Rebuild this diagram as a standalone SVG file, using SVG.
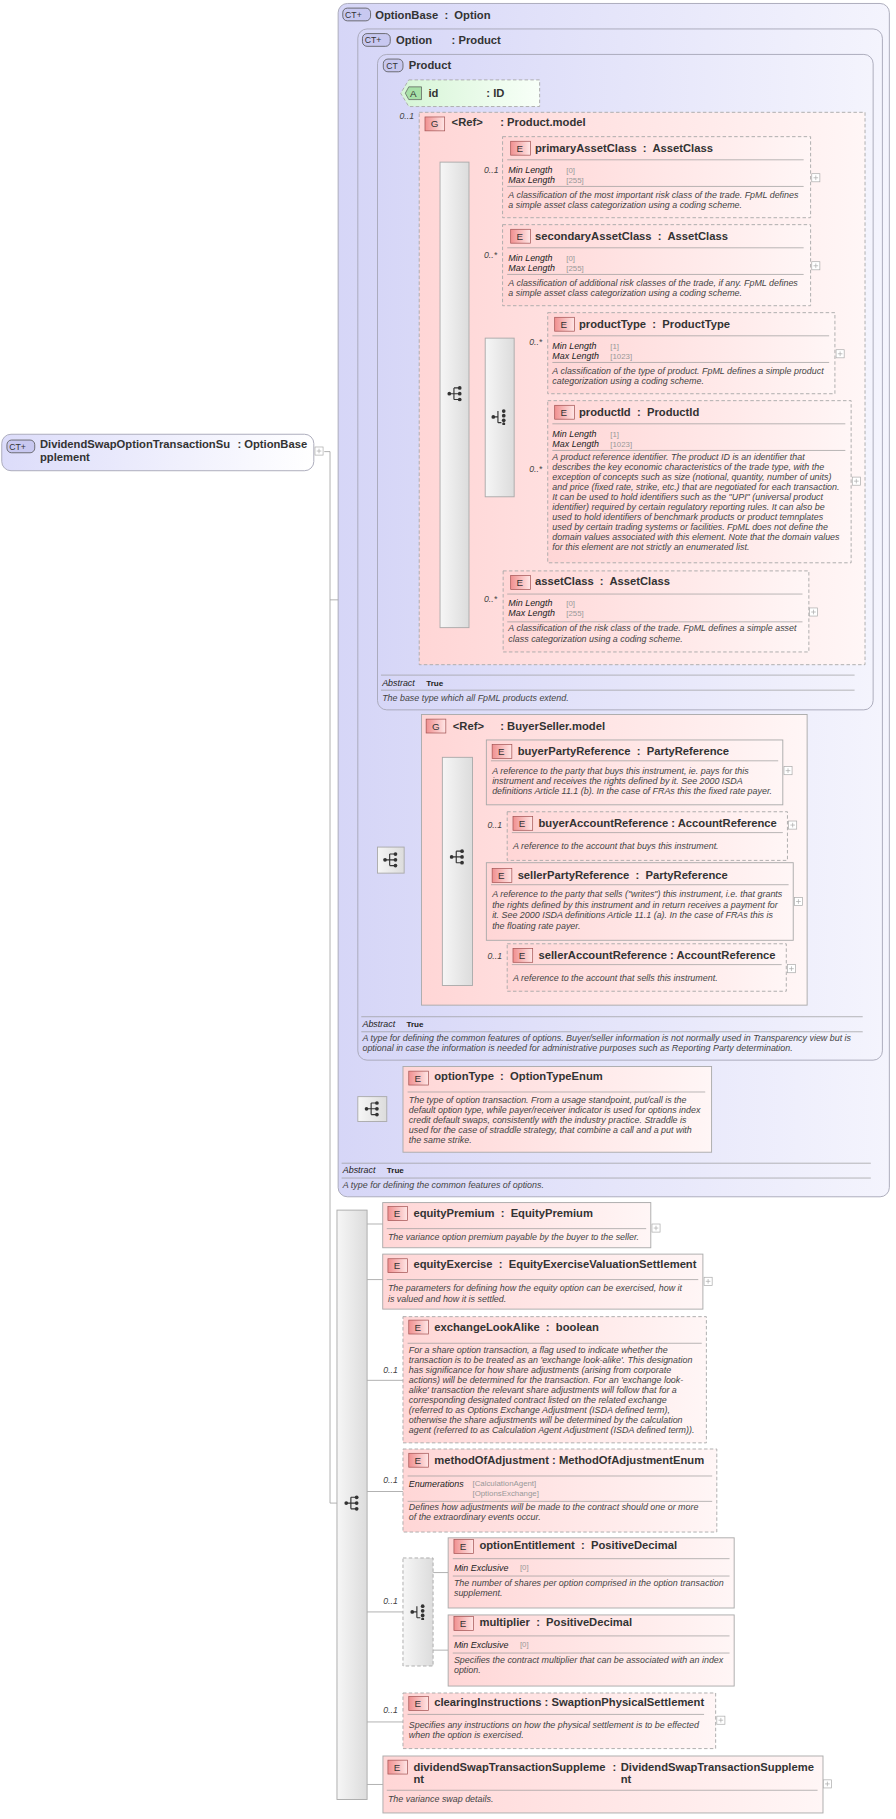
<svg xmlns="http://www.w3.org/2000/svg" width="896" height="1819" viewBox="0 0 896 1819">
<defs>
<linearGradient id="gct" x1="0" y1="0" x2="1" y2="0"><stop offset="0" stop-color="#d6d6f7"/><stop offset="1" stop-color="#f4f4fd"/></linearGradient>
<linearGradient id="gctr" x1="0" y1="0" x2="1" y2="0"><stop offset="0" stop-color="#dcdcfa"/><stop offset="1" stop-color="#ffffff"/></linearGradient>
<linearGradient id="ge" x1="0" y1="0" x2="1" y2="0"><stop offset="0" stop-color="#ffd6d6"/><stop offset="1" stop-color="#fff6f6"/></linearGradient>
<linearGradient id="ga" x1="0" y1="0" x2="1" y2="0"><stop offset="0" stop-color="#d6f5d6"/><stop offset="1" stop-color="#f8fff8"/></linearGradient>
<linearGradient id="gs" x1="0" y1="0" x2="1" y2="0"><stop offset="0" stop-color="#f6f6f6"/><stop offset="1" stop-color="#dcdcdc"/></linearGradient>
<linearGradient id="gb" x1="0" y1="0" x2="1" y2="0"><stop offset="0" stop-color="#f09090"/><stop offset="1" stop-color="#ffe6e6"/></linearGradient>
<symbol id="seq" viewBox="0 0 14 14"><circle cx="2" cy="7" r="1.6" fill="#333"/><path d="M2 7H6M6 2V12M6 2H11M6 7H11M6 12H11" stroke="#333" fill="none" stroke-width="1"/><circle cx="11" cy="2" r="1.6" fill="#333"/><circle cx="11" cy="7" r="1.6" fill="#333"/><circle cx="11" cy="12" r="1.6" fill="#333"/></symbol>
<symbol id="cho" viewBox="0 0 14 14"><circle cx="2" cy="7" r="1.6" fill="#333"/><path d="M2 7H6M6 2V12M6 12H9" stroke="#333" fill="none" stroke-width="1"/><circle cx="11" cy="2" r="1.6" fill="#333"/><circle cx="11" cy="6" r="1.6" fill="#333"/><circle cx="11" cy="10" r="1.6" fill="#333"/><circle cx="11" cy="13" r="1.3" fill="#333"/></symbol>
<g id="plus"><rect x="0" y="0" width="7" height="7" fill="#fff" stroke="#aaa" stroke-width="0.6"/><path d="M1.5 3.5H5.5M3.5 1.5V5.5" stroke="#aaa" stroke-width="0.6"/></g>
</defs>
<style>
.h{font-family:"Liberation Sans",Arial,sans-serif;font-weight:bold;font-size:9.7px;fill:#333;white-space:pre}
.d{font-family:"Liberation Sans",Arial,sans-serif;font-style:italic;font-size:7.7px;fill:#444}
.k{font-family:"Liberation Sans",Arial,sans-serif;font-style:italic;font-size:7.7px;fill:#222}
.v{font-family:"Liberation Sans",Arial,sans-serif;font-size:6.8px;fill:#999}
.t{font-family:"Liberation Sans",Arial,sans-serif;font-weight:bold;font-size:7px;fill:#222}
.m{font-family:"Liberation Sans",Arial,sans-serif;font-style:italic;font-size:7.5px;fill:#444}
.bt{font-family:"Liberation Sans",Arial,sans-serif;font-size:8.5px;fill:#333}
.bs{font-family:"Liberation Sans",Arial,sans-serif;font-size:7.5px;fill:#333}
.ct{fill:url(#gct);stroke:#a8a8b8;stroke-width:0.8}
.e{fill:url(#ge);stroke:#aaa;stroke-width:0.8}
.eo{fill:url(#ge);stroke:#aaa;stroke-width:0.8;stroke-dasharray:3 2}
.s{fill:url(#gs);stroke:#aaa;stroke-width:0.8}
.so{fill:url(#gs);stroke:#aaa;stroke-width:0.8;stroke-dasharray:3 2}
.ln{stroke:#999;stroke-width:0.6}
.c{stroke:#a0a0a0;stroke-width:0.7;fill:none}
.be{fill:url(#gb);stroke:#a05050;stroke-width:0.6}
.bc{fill:#c8c8f0;stroke:#555;stroke-width:0.7}
</style>
<rect width="896" height="1819" fill="#fff"/>
<g transform="scale(1.158)">
<g id="connectors">
<path class="c" d="M280 390H285V1298H291M285 518H301M301 473V958H309M301 473H318M318 330V742H326M318 330H335M335 82V335H380M335 82H346M349 742H382M334 958H348M405 153H434M405 229H434M405 360H419M444 305H473M444 416H473M405 528H434M408 665H420M408 712H438M408 777H420M408 834H438M317 1057H331M317 1105H331M317 1192H348M317 1288H348M317 1392H348M374 1358H387M374 1425H387M317 1487H348M317 1541H331"/>
</g>
<g id="root">
<rect x="1.5" y="375" width="269.5" height="31.5" rx="8" fill="url(#gctr)" stroke="#a8a8b8" stroke-width="0.8"/>
<rect x="6" y="380" width="24" height="11" rx="4" class="bc"/><text x="8" y="388.5" class="bs">CT+</text>
<text x="34.5" y="387" class="h">DividendSwapOptionTransactionSu</text><text x="34.5" y="398" class="h">pplement</text>
<text x="205" y="387" class="h">: OptionBase</text>
<use href="#plus" x="272" y="386"/>
</g>
<g id="OptionBase">
<rect x="292" y="3" width="476" height="1030.5" rx="8" class="ct"/>
<rect x="296" y="7" width="24" height="11" rx="4" class="bc"/><text x="298" y="15.5" class="bs">CT+</text>
<text x="324" y="16" class="h">OptionBase  :  Option</text>
<path class="ln" d="M295 1004.5H752M295 1017.3H752"/>
<text x="296" y="1013" class="k">Abstract</text><text x="334" y="1013" class="t">True</text>
<text x="296" y="1026" class="d">A type for defining the common features of options.</text>
</g>
<g id="Option">
<rect x="309" y="25" width="453" height="890.5" rx="8" class="ct"/>
<rect x="313" y="29" width="24" height="11" rx="4" class="bc"/><text x="315" y="37.5" class="bs">CT+</text>
<text x="342" y="38" class="h">Option</text><text x="390" y="38" class="h">: Product</text>
<path class="ln" d="M312 878H745M312 891H745"/>
<text x="313" y="886.5" class="k">Abstract</text><text x="351" y="886.5" class="t">True</text>
<text x="313" y="899" class="d">A type for defining the common features of options. Buyer/seller information is not normally used in Transparency view but is</text>
<text x="313" y="908" class="d">optional in case the information is needed for administrative purposes such as Reporting Party determination.</text>
</g>
<g id="Product">
<rect x="326" y="47" width="428" height="566" rx="8" class="ct"/>
<rect x="331" y="51" width="17" height="11" rx="4" class="bc"/><text x="333.5" y="59.5" class="bs">CT</text>
<text x="353" y="60" class="h">Product</text>
<path class="ln" d="M329 583H738M329 596H738"/>
<text x="330" y="592" class="k">Abstract</text><text x="368" y="592" class="t">True</text>
<text x="330" y="605" class="d">The base type which all FpML products extend.</text>
</g>
<g id="id">
<path d="M353 69H466V92H353L346 80.5Z" fill="url(#ga)" stroke="#aaa" stroke-width="0.8" stroke-dasharray="3 2"/>
<path d="M353 75H364V86H353L350 80.5Z" fill="#a8e0a8" stroke="#555" stroke-width="0.6"/><text x="354" y="84" class="bt">A</text>
<text x="370" y="84" class="h">id</text><text x="420" y="84" class="h">: ID</text>
</g>
<g id="ProductModel">
<text x="345" y="103" class="m">0..1</text>
<rect x="362" y="97" width="385" height="477" class="eo"/>
<rect x="367" y="101" width="17" height="12" class="be"/><text x="372" y="110" class="bt">G</text>
<text x="390" y="109" class="h">&lt;Ref&gt;</text><text x="432" y="109" class="h">: Product.model</text>
<rect x="380" y="140" width="25" height="402" class="s"/><use href="#seq" x="386" y="333" width="14" height="14"/>
</g>
<g id="primaryAssetClass">
<text x="418" y="149" class="m">0..1</text>
<rect x="434" y="118" width="266" height="70" class="eo"/>
<rect x="441" y="122" width="17" height="12" class="be"/><text x="446" y="131" class="bt">E</text>
<text x="462" y="131" class="h">primaryAssetClass  :  AssetClass</text>
<path class="ln" d="M438 138H694M438 161H694"/>
<text x="439" y="149" class="k">Min Length</text><text x="489" y="149" class="v">[0]</text>
<text x="439" y="158" class="k">Max Length</text><text x="489" y="158" class="v">[255]</text>
<text x="439" y="171" class="d">A classification of the most important risk class of the trade. FpML defines</text>
<text x="439" y="180" class="d">a simple asset class categorization using a coding scheme.</text>
<use href="#plus" x="701" y="150"/>
</g>
<g id="secondaryAssetClass">
<text x="418" y="223" class="m">0..*</text>
<rect x="434" y="194" width="266" height="70" class="eo"/>
<rect x="441" y="198" width="17" height="12" class="be"/><text x="446" y="207" class="bt">E</text>
<text x="462" y="207" class="h">secondaryAssetClass  :  AssetClass</text>
<path class="ln" d="M438 214H694M438 237H694"/>
<text x="439" y="225" class="k">Min Length</text><text x="489" y="225" class="v">[0]</text>
<text x="439" y="234" class="k">Max Length</text><text x="489" y="234" class="v">[255]</text>
<text x="439" y="247" class="d">A classification of additional risk classes of the trade, if any. FpML defines</text>
<text x="439" y="256" class="d">a simple asset class categorization using a coding scheme.</text>
<use href="#plus" x="701" y="226"/>
</g>
<g id="productChoice">
<rect x="419" y="292" width="25" height="137" class="s"/><use href="#cho" x="424" y="353" width="14" height="14"/>
</g>
<g id="productType">
<text x="457" y="298" class="m">0..*</text>
<rect x="473" y="270" width="248" height="70" class="eo"/>
<rect x="479" y="274" width="17" height="12" class="be"/><text x="484" y="283" class="bt">E</text>
<text x="500" y="283" class="h">productType  :  ProductType</text>
<path class="ln" d="M477 290H716M477 313H716"/>
<text x="477" y="301" class="k">Min Length</text><text x="527" y="301" class="v">[1]</text>
<text x="477" y="310" class="k">Max Length</text><text x="527" y="310" class="v">[1023]</text>
<text x="477" y="323" class="d">A classification of the type of product. FpML defines a simple product</text>
<text x="477" y="332" class="d">categorization using a coding scheme.</text>
<use href="#plus" x="722" y="302"/>
</g>
<g id="productId">
<text x="457" y="408" class="m">0..*</text>
<rect x="473" y="346" width="262" height="140" class="eo"/>
<rect x="479" y="350" width="17" height="12" class="be"/><text x="484" y="359" class="bt">E</text>
<text x="500" y="359" class="h">productId  :  ProductId</text>
<path class="ln" d="M477 366H730M477 389H730"/>
<text x="477" y="377" class="k">Min Length</text><text x="527" y="377" class="v">[1]</text>
<text x="477" y="386" class="k">Max Length</text><text x="527" y="386" class="v">[1023]</text>
<text x="477" y="397" class="d">A product reference identifier. The product ID is an identifier that</text>
<text x="477" y="405.6" class="d">describes the key economic characteristics of the trade type, with the</text>
<text x="477" y="414.3" class="d">exception of concepts such as size (notional, quantity, number of units)</text>
<text x="477" y="422.9" class="d">and price (fixed rate, strike, etc.) that are negotiated for each transaction.</text>
<text x="477" y="431.6" class="d">It can be used to hold identifiers such as the "UPI" (universal product</text>
<text x="477" y="440.2" class="d">identifier) required by certain regulatory reporting rules. It can also be</text>
<text x="477" y="448.8" class="d">used to hold identifiers of benchmark products or product temnplates</text>
<text x="477" y="457.5" class="d">used by certain trading systems or facilities. FpML does not define the</text>
<text x="477" y="466.1" class="d">domain values associated with this element. Note that the domain values</text>
<text x="477" y="474.8" class="d">for this element are not strictly an enumerated list.</text>
<use href="#plus" x="736" y="412"/>
</g>
<g id="assetClass">
<text x="418" y="520" class="m">0..*</text>
<rect x="434.5" y="493" width="264" height="70" class="eo"/>
<rect x="441" y="497" width="17" height="12" class="be"/><text x="446" y="506" class="bt">E</text>
<text x="462" y="505" class="h">assetClass  :  AssetClass</text>
<path class="ln" d="M438 513H693M438 537H693"/>
<text x="439" y="523" class="k">Min Length</text><text x="489" y="523" class="v">[0]</text>
<text x="439" y="532" class="k">Max Length</text><text x="489" y="532" class="v">[255]</text>
<text x="439" y="545" class="d">A classification of the risk class of the trade. FpML defines a simple asset</text>
<text x="439" y="554" class="d">class categorization using a coding scheme.</text>
<use href="#plus" x="699" y="525"/>
</g>
<g id="optionSeq1">
<rect x="326" y="731.5" width="23" height="22.5" class="s"/><use href="#seq" x="330.5" y="735.5" width="14" height="14"/>
</g>
<g id="BuyerSellerModel">
<rect x="364" y="617" width="333" height="251" fill="url(#ge)" stroke="#aaa" stroke-width="0.8"/>
<rect x="368" y="621" width="17" height="12" class="be"/><text x="373" y="630" class="bt">G</text>
<text x="391" y="630" class="h">&lt;Ref&gt;</text><text x="432" y="630" class="h">: BuyerSeller.model</text>
<rect x="382" y="654" width="26" height="197" class="s"/><use href="#seq" x="388" y="733" width="14" height="14"/>
</g>
<g id="buyerPartyReference">
<rect x="420" y="639" width="256" height="56" class="e"/>
<rect x="425" y="643" width="17" height="12" class="be"/><text x="430" y="652" class="bt">E</text>
<text x="447" y="652" class="h">buyerPartyReference  :  PartyReference</text>
<path class="ln" d="M424 657H672"/>
<text x="425" y="668" class="d">A reference to the party that buys this instrument, ie. pays for this</text>
<text x="425" y="677" class="d">instrument and receives the rights defined by it. See 2000 ISDA</text>
<text x="425" y="686" class="d">definitions Article 11.1 (b). In the case of FRAs this the fixed rate payer.</text>
<use href="#plus" x="677" y="662"/>
</g>
<g id="buyerAccountReference">
<text x="421" y="715" class="m">0..1</text>
<rect x="438" y="701" width="242" height="42" class="eo"/>
<rect x="443" y="705" width="17" height="12" class="be"/><text x="448" y="714" class="bt">E</text>
<text x="465" y="714" class="h">buyerAccountReference : AccountReference</text>
<path class="ln" d="M442 719H676"/>
<text x="443" y="733" class="d">A reference to the account that buys this instrument.</text>
<use href="#plus" x="681" y="709"/>
</g>
<g id="sellerPartyReference">
<rect x="420" y="745" width="265" height="67" class="e"/>
<rect x="425" y="750" width="17" height="12" class="be"/><text x="430" y="759" class="bt">E</text>
<text x="447" y="759" class="h">sellerPartyReference  :  PartyReference</text>
<path class="ln" d="M424 764H681"/>
<text x="425" y="775" class="d">A reference to the party that sells ("writes") this instrument, i.e. that grants</text>
<text x="425" y="784" class="d">the rights defined by this instrument and in return receives a payment for</text>
<text x="425" y="793" class="d">it. See 2000 ISDA definitions Article 11.1 (a). In the case of FRAs this is</text>
<text x="425" y="802" class="d">the floating rate payer.</text>
<use href="#plus" x="686" y="775"/>
</g>
<g id="sellerAccountReference">
<text x="421" y="828" class="m">0..1</text>
<rect x="438" y="815" width="241" height="41" class="eo"/>
<rect x="443" y="819" width="17" height="12" class="be"/><text x="448" y="828" class="bt">E</text>
<text x="465" y="828" class="h">sellerAccountReference : AccountReference</text>
<path class="ln" d="M442 833H675"/>
<text x="443" y="847" class="d">A reference to the account that sells this instrument.</text>
<use href="#plus" x="680" y="833"/>
</g>
<g id="optionSeq2">
<rect x="309" y="947" width="25" height="21.5" class="s"/><use href="#seq" x="314.5" y="950.5" width="14" height="14"/>
</g>
<g id="optionType">
<rect x="348" y="921" width="266.5" height="74" class="e"/>
<rect x="353" y="925" width="17" height="12" class="be"/><text x="358" y="934" class="bt">E</text>
<text x="375" y="933" class="h">optionType  :  OptionTypeEnum</text>
<path class="ln" d="M352 943H609"/>
<text x="353" y="952.5" class="d">The type of option transaction. From a usage standpoint, put/call is the</text>
<text x="353" y="961.2" class="d">default option type, while payer/receiver indicator is used for options index</text>
<text x="353" y="969.8" class="d">credit default swaps, consistently with the industry practice. Straddle is</text>
<text x="353" y="978.5" class="d">used for the case of straddle strategy, that combine a call and a put with</text>
<text x="353" y="987.1" class="d">the same strike.</text>
</g>
<g id="mainSeq">
<rect x="291" y="1045" width="26" height="509" class="s"/><use href="#seq" x="297" y="1291" width="14" height="14"/>
</g>
<g id="equityPremium">
<rect x="330.5" y="1038.5" width="231.5" height="39" class="e"/>
<rect x="335" y="1042" width="17" height="12" class="be"/><text x="340" y="1051" class="bt">E</text>
<text x="357" y="1051" class="h">equityPremium  :  EquityPremium</text>
<path class="ln" d="M334 1061H558"/>
<text x="335" y="1071" class="d">The variance option premium payable by the buyer to the seller.</text>
<use href="#plus" x="563" y="1057"/>
</g>
<g id="equityExercise">
<rect x="330.5" y="1083" width="276.5" height="47.5" class="e"/>
<rect x="335" y="1087" width="17" height="12" class="be"/><text x="340" y="1096" class="bt">E</text>
<text x="357" y="1095" class="h">equityExercise  :  EquityExerciseValuationSettlement</text>
<path class="ln" d="M334 1105H603"/>
<text x="335" y="1115" class="d">The parameters for defining how the equity option can be exercised, how it</text>
<text x="335" y="1124" class="d">is valued and how it is settled.</text>
<use href="#plus" x="608" y="1103"/>
</g>
<g id="exchangeLookAlike">
<text x="331" y="1186" class="m">0..1</text>
<rect x="348" y="1137" width="262" height="109" class="eo"/>
<rect x="353" y="1140" width="17" height="12" class="be"/><text x="358" y="1149" class="bt">E</text>
<text x="375" y="1149" class="h">exchangeLookAlike  :  boolean</text>
<path class="ln" d="M352 1160H606"/>
<text x="353" y="1168.4" class="d">For a share option transaction, a flag used to indicate whether the</text>
<text x="353" y="1177" class="d">transaction is to be treated as an 'exchange look-alike'. This designation</text>
<text x="353" y="1185.7" class="d">has significance for how share adjustments (arising from corporate</text>
<text x="353" y="1194.3" class="d">actions) will be determined for the transaction. For an 'exchange look-</text>
<text x="353" y="1203" class="d">alike' transaction the relevant share adjustments will follow that for a</text>
<text x="353" y="1211.6" class="d">corresponding designated contract listed on the related exchange</text>
<text x="353" y="1220.2" class="d">(referred to as Options Exchange Adjustment (ISDA defined term),</text>
<text x="353" y="1228.9" class="d">otherwise the share adjustments will be determined by the calculation</text>
<text x="353" y="1237.5" class="d">agent (referred to as Calculation Agent Adjustment (ISDA defined term)).</text>
</g>
<g id="methodOfAdjustment">
<text x="331" y="1281" class="m">0..1</text>
<rect x="348" y="1251.3" width="271" height="71.7" class="eo"/>
<rect x="353" y="1255" width="17" height="12" class="be"/><text x="358" y="1264" class="bt">E</text>
<text x="375" y="1264" class="h">methodOfAdjustment : MethodOfAdjustmentEnum</text>
<path class="ln" d="M352 1274.6H615M352 1296.5H615"/>
<text x="353" y="1284" class="k">Enumerations</text><text x="408" y="1283.5" class="v">[CalculationAgent]</text><text x="408" y="1292" class="v">[OptionsExchange]</text>
<text x="353" y="1304" class="d">Defines how adjustments will be made to the contract should one or more</text>
<text x="353" y="1312.6" class="d">of the extraordinary events occur.</text>
</g>
<g id="choice2">
<text x="331" y="1385" class="m">0..1</text>
<rect x="348" y="1345.4" width="26" height="93.3" class="so"/><use href="#cho" x="354" y="1385" width="14" height="14"/>
</g>
<g id="optionEntitlement">
<rect x="387" y="1328" width="247" height="60.6" class="e"/>
<rect x="392" y="1329.5" width="17" height="12" class="be"/><text x="397" y="1338.5" class="bt">E</text>
<text x="414" y="1338" class="h">optionEntitlement  :  PositiveDecimal</text>
<path class="ln" d="M391 1346H630M391 1361H630"/>
<text x="392" y="1356.5" class="k">Min Exclusive</text><text x="449" y="1356" class="v">[0]</text>
<text x="392" y="1369.6" class="d">The number of shares per option comprised in the option transaction</text>
<text x="392" y="1378.2" class="d">supplement.</text>
</g>
<g id="multiplier">
<rect x="387" y="1394.6" width="247" height="61.4" class="e"/>
<rect x="392" y="1396" width="17" height="12" class="be"/><text x="397" y="1405" class="bt">E</text>
<text x="414" y="1404.5" class="h">multiplier  :  PositiveDecimal</text>
<path class="ln" d="M391 1412.7H630M391 1427.5H630"/>
<text x="392" y="1423" class="k">Min Exclusive</text><text x="449" y="1422.5" class="v">[0]</text>
<text x="392" y="1436" class="d">Specifies the contract multiplier that can be associated with an index</text>
<text x="392" y="1444.7" class="d">option.</text>
</g>
<g id="clearingInstructions">
<text x="331" y="1479" class="m">0..1</text>
<rect x="348" y="1462" width="270" height="48" class="eo"/>
<rect x="353" y="1465" width="17" height="12" class="be"/><text x="358" y="1474" class="bt">E</text>
<text x="375" y="1473.5" class="h">clearingInstructions : SwaptionPhysicalSettlement</text>
<path class="ln" d="M352 1480.5H608"/>
<text x="353" y="1492.2" class="d">Specifies any instructions on how the physical settlement is to be effected</text>
<text x="353" y="1500.9" class="d">when the option is exercised.</text>
<use href="#plus" x="619" y="1482"/>
</g>
<g id="dividendSwapTransactionSupplement">
<rect x="330.7" y="1516.4" width="380" height="49.2" class="e"/>
<rect x="335" y="1520" width="17" height="12" class="be"/><text x="340" y="1529" class="bt">E</text>
<text x="357" y="1529" class="h">dividendSwapTransactionSuppleme</text><text x="357" y="1540" class="h">nt</text>
<text x="529" y="1529" class="h">:</text>
<text x="536" y="1529" class="h">DividendSwapTransactionSuppleme</text><text x="536" y="1540" class="h">nt</text>
<path class="ln" d="M334 1546H706"/>
<text x="335" y="1556" class="d">The variance swap details.</text>
<use href="#plus" x="711" y="1537"/>
</g>
</g>
</svg>
